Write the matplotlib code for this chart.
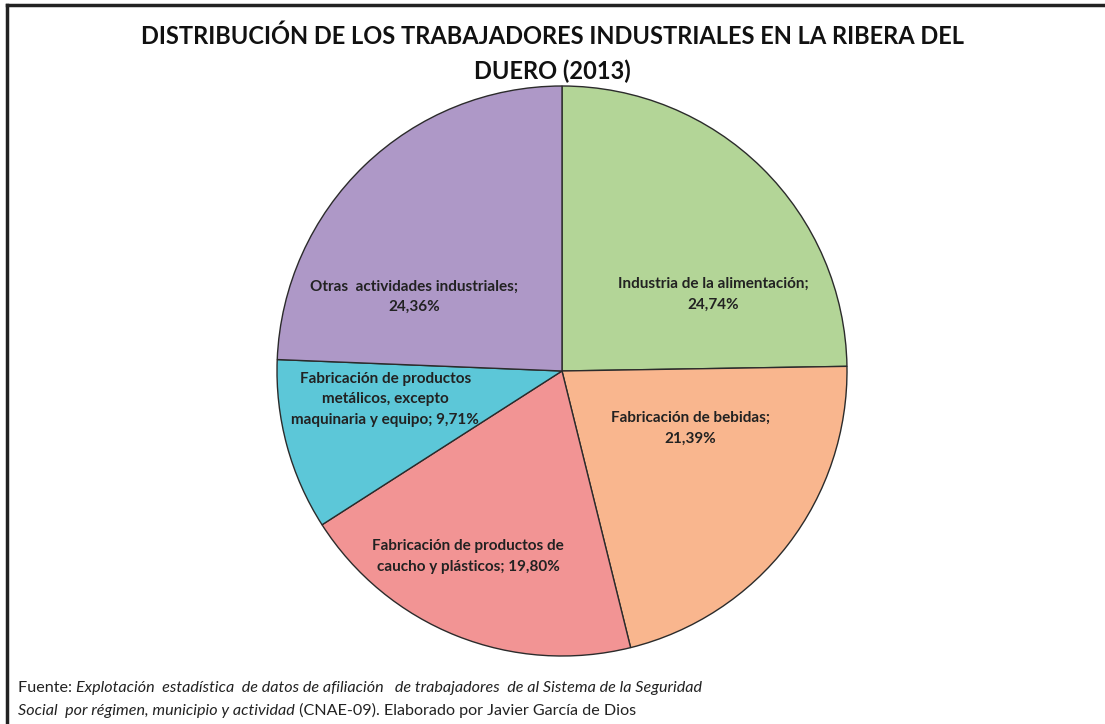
import matplotlib
matplotlib.use('Agg')
import matplotlib.pyplot as plt
from matplotlib.lines import Line2D

# data
sectores = ['Industria de la alimentación;\n24,74%',
            'Fabricación de bebidas;\n21,39%',
            'Fabricación de productos de\ncaucho y plásticos; 19,80%',
            'Fabricación de productos\nmetálicos, excepto\nmaquinaria y equipo; 9,71%',
            'Otras  actividades industriales;\n24,36%']
porcentajes = [24.74, 21.39, 19.80, 9.71, 24.36]
colores = ['#B3D597', '#F9B68E', '#F29494', '#5CC7D8', '#AE98C7']
# label offsets in radius units (Excel "best fit" placement)
label_pos = [(0.53, 0.27), (0.45, -0.20), (-0.33, -0.65), (-0.62, -0.10), (-0.52, 0.26)]

titulo = ['DISTRIBUCIÓN DE LOS TRABAJADORES INDUSTRIALES EN LA RIBERA DEL', 'DUERO (2013)']
fuente = [('Fuente: ', 'normal'),
          ('Explotación  estadística  de datos de afiliación   de trabajadores  de al Sistema de la Seguridad', 'italic')]
fuente2 = [('Social  por régimen, municipio y actividad', 'italic'),
           (' (CNAE-09). Elaborado por Javier García de Dios', 'normal')]

plt.rcParams['font.family'] = ['Lato', 'DejaVu Sans']

fig = plt.figure(figsize=(11.05, 7.24), dpi=100)

# pie centered ~ (562, 371) px, radius ~285 px
W, H = 1105, 724
cx, cy, r = 562, 371, 285
ax = fig.add_axes([(cx - r) / W, (H - cy - r) / H, 2 * r / W, 2 * r / H])
wedges, _ = ax.pie(porcentajes, colors=colores, startangle=90, counterclock=False,
                   wedgeprops=dict(edgecolor='#2b2b2b', linewidth=1.0))
ax.set_xlim(-1, 1)
ax.set_ylim(-1, 1)
ax.set_aspect('equal')

for lab, (x, y) in zip(sectores, label_pos):
    ax.text(x, y, lab, ha='center', va='center', fontsize=11, fontweight='bold',
            color='#222222', linespacing=1.6)

fig.text(0.5, (H - 36) / H, titulo[0], ha='center', va='center', fontsize=17,
         fontweight='bold', color='#111111')
fig.text(0.5, (H - 71) / H, titulo[1], ha='center', va='center', fontsize=17,
         fontweight='bold', color='#111111')

# footer, mixed normal/italic pieces chained one after another
ax_f = fig.add_axes([0, 0, 1, 1], facecolor='none')
ax_f.axis('off')
for partes, y in [(fuente, 688), (fuente2, 711)]:
    prev = ax_f.text(18 / W, (H - y) / H, partes[0][0], fontsize=11.6, style=partes[0][1],
                     color='#222222', va='center', transform=fig.transFigure)
    for txt, st in partes[1:]:
        prev = ax_f.annotate(txt, xy=(1, 0), xycoords=prev, va='bottom', ha='left',
                             fontsize=11.6, style=st, color='#222222')

# frame lines (top and left)
fig.add_artist(Line2D([7 / W, 1], [1 - 5 / H, 1 - 5 / H], color='#222222', linewidth=2.5,
                      transform=fig.transFigure))
fig.add_artist(Line2D([7 / W, 7 / W], [0, 1 - 5 / H], color='#222222', linewidth=2.5,
                      transform=fig.transFigure))

fig.savefig('out.png', dpi=100, facecolor='white')
